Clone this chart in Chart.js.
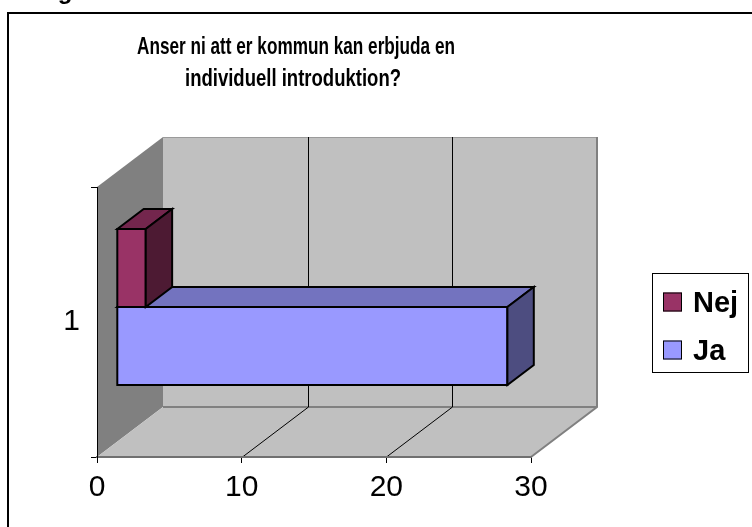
<!DOCTYPE html>
<html><head><meta charset="utf-8">
<script src="https://cdn.jsdelivr.net/npm/chart.js@4.4.0/dist/chart.umd.min.js"></script>
<style>html,body{margin:0;padding:0;background:#fff;overflow:hidden}canvas{display:block}</style>
</head><body>
<canvas id="c" width="752" height="527"></canvas>
<script>
const categories = ['1'];
const seriesNames = ['Nej', 'Ja'];
const nejValues = [2];
const jaValues = [27];
const xTicks = [0, 10, 20, 30];
const titleLines = ['Anser ni att er kommun kan erbjuda en', 'individuell introduktion?'];

const FONT = "'Liberation Sans', Arial, Helvetica, sans-serif";
const DEPTH = {dx: 66, dy: -50};
const BAR_FRONT = 0.3, BAR_BACK = 0.7;

function poly(ctx, pts, fill) {
  ctx.beginPath();
  ctx.moveTo(pts[0][0], pts[0][1]);
  for (let i = 1; i < pts.length; i++) ctx.lineTo(pts[i][0], pts[i][1]);
  ctx.closePath();
  if (fill) { ctx.fillStyle = fill; ctx.fill(); }
  ctx.stroke();
}

const scenePlugin = {
  id: 'scene3d',
  beforeDraw(chart) {
    const ctx = chart.ctx, a = chart.chartArea, xs = chart.scales.x;
    const {dx, dy} = DEPTH;
    ctx.save();
    // clipped heading fragment above frame
    ctx.fillStyle = '#000';
    ctx.font = 'bold 24px ' + FONT;
    ctx.textAlign = 'center';
    ctx.textBaseline = 'alphabetic';
    ctx.fillText('g', 65, -1);
    // outer frame
    ctx.strokeStyle = '#000'; ctx.lineWidth = 2;
    ctx.beginPath(); ctx.moveTo(8, 560); ctx.lineTo(8, 13); ctx.lineTo(770, 13); ctx.stroke();
    // left wall
    ctx.fillStyle = '#808080';
    ctx.beginPath();
    ctx.moveTo(a.left, a.top); ctx.lineTo(a.left + dx, a.top + dy);
    ctx.lineTo(a.left + dx, a.bottom + dy); ctx.lineTo(a.left, a.bottom);
    ctx.closePath(); ctx.fill();
    // back wall
    ctx.fillStyle = '#c0c0c0';
    ctx.fillRect(a.left + dx, a.top + dy, a.right - a.left, a.bottom - a.top);
    // floor
    ctx.beginPath();
    ctx.moveTo(a.left, a.bottom); ctx.lineTo(a.left + dx, a.bottom + dy);
    ctx.lineTo(a.right + dx, a.bottom + dy); ctx.lineTo(a.right, a.bottom);
    ctx.closePath(); ctx.fill();
    // wall edges
    ctx.strokeStyle = '#9a9a9a'; ctx.lineWidth = 1;
    ctx.beginPath(); ctx.moveTo(a.left + dx, a.top + dy + 0.5); ctx.lineTo(a.right + dx, a.top + dy + 0.5); ctx.stroke();
    ctx.strokeStyle = '#808080'; ctx.lineWidth = 2;
    ctx.beginPath();
    ctx.moveTo(a.right + dx, a.top + dy); ctx.lineTo(a.right + dx, a.bottom + dy);
    ctx.lineTo(a.right, a.bottom); ctx.stroke();
    ctx.beginPath(); ctx.moveTo(a.left + dx, a.bottom + dy); ctx.lineTo(a.right + dx, a.bottom + dy); ctx.stroke();
    // gridlines on floor and back wall
    ctx.strokeStyle = '#000'; ctx.lineWidth = 1;
    xTicks.forEach(v => {
      if (v === xs.min || v === xs.max) return;
      const px = Math.round(xs.getPixelForValue(v)) + 0.5;
      ctx.beginPath();
      ctx.moveTo(px, a.bottom); ctx.lineTo(px + dx, a.bottom + dy);
      ctx.lineTo(px + dx, a.top + dy); ctx.stroke();
    });
    ctx.restore();
  },
  beforeDatasetsDraw(chart) {
    const ctx = chart.ctx;
    const {dx, dy} = DEPTH;
    const items = [];
    chart.getSortedVisibleDatasetMetas().forEach(m => {
      m.data.forEach(el => items.push({el, ds: chart.data.datasets[m.index]}));
    });
    items.sort((p, q) => q.el.y - p.el.y);
    ctx.save();
    ctx.lineWidth = 2; ctx.strokeStyle = '#000'; ctx.lineJoin = 'miter';
    const fx = BAR_FRONT * dx, fy = BAR_FRONT * dy;
    const bx = (BAR_BACK - BAR_FRONT) * dx, by = (BAR_BACK - BAR_FRONT) * dy;
    items.forEach(({el, ds}) => {
      const p = el.getProps(['x', 'y', 'base', 'height'], true);
      const x0 = Math.min(p.base, p.x) + fx, x1 = Math.max(p.base, p.x) + fx;
      const y0 = p.y - p.height / 2 + fy, y1 = p.y + p.height / 2 + fy;
      poly(ctx, [[x0, y0], [x1, y0], [x1, y1], [x0, y1]], ds.backgroundColor);
      poly(ctx, [[x0, y0], [x0 + bx, y0 + by], [x1 + bx, y0 + by], [x1, y0]], ds.topColor);
      poly(ctx, [[x1, y0], [x1 + bx, y0 + by], [x1 + bx, y1 + by], [x1, y1]], ds.sideColor);
    });
    ctx.restore();
    return false;
  },
  afterDraw(chart) {
    const ctx = chart.ctx;
    ctx.save();
    // title
    ctx.fillStyle = '#000';
    ctx.font = 'bold 24px ' + FONT;
    ctx.textAlign = 'center';
    ctx.textBaseline = 'alphabetic';
    ctx.fillText(titleLines[0], 296, 54, 318);
    ctx.fillText(titleLines[1], 293, 86, 216);
    // legend
    ctx.strokeStyle = '#000'; ctx.lineWidth = 1;
    ctx.strokeRect(652.5, 273.5, 96, 99);
    const rows = [302, 350];
    chart.data.datasets.forEach((ds, i) => {
      const cy = rows[i];
      ctx.fillStyle = ds.backgroundColor;
      ctx.fillRect(663, cy - 9.5, 19, 19);
      ctx.strokeRect(663.5, cy - 9, 18, 18);
      ctx.fillStyle = '#000';
      ctx.font = 'bold 29px ' + FONT;
      ctx.textAlign = 'left';
      ctx.textBaseline = 'alphabetic';
      ctx.fillText(ds.label, 693, cy + 10);
    });
    ctx.restore();
  }
};

new Chart(document.getElementById('c'), {
  type: 'bar',
  data: {
    labels: categories,
    datasets: [
      {label: seriesNames[0], data: nejValues, backgroundColor: '#993366', topColor: '#73264d', sideColor: '#4d1a33',
       categoryPercentage: 0.578, barPercentage: 1},
      {label: seriesNames[1], data: jaValues, backgroundColor: '#9999ff', topColor: '#7373bf', sideColor: '#4d4d80',
       categoryPercentage: 0.578, barPercentage: 1}
    ]
  },
  options: {
    responsive: false,
    animation: false,
    indexAxis: 'y',
    layout: {padding: {top: 187, right: 221, bottom: 0, left: 0}},
    plugins: {legend: {display: false}, title: {display: false}, tooltip: {enabled: false}},
    scales: {
      x: {
        type: 'linear', position: 'bottom', min: 0, max: 30,
        afterFit(s) { s.height = 70; },
        afterBuildTicks(s) { s.ticks = xTicks.map(v => ({value: v})); },
        grid: {drawOnChartArea: false, drawTicks: true, tickLength: 6, color: '#000', lineWidth: 1},
        border: {display: true, color: '#707070', width: 2},
        ticks: {font: {family: FONT, size: 30}, color: '#000', padding: 7, maxRotation: 0}
      },
      y: {
        type: 'category', offset: true,
        afterFit(s) { s.width = 97; },
        grid: {offset: true, drawOnChartArea: false, drawTicks: true, tickLength: 6, color: '#000', lineWidth: 1},
        border: {display: true, color: '#000', width: 1},
        ticks: {font: {family: FONT, size: 30}, color: '#000', padding: 11}
      }
    }
  },
  plugins: [scenePlugin]
});
</script>
</body></html>
